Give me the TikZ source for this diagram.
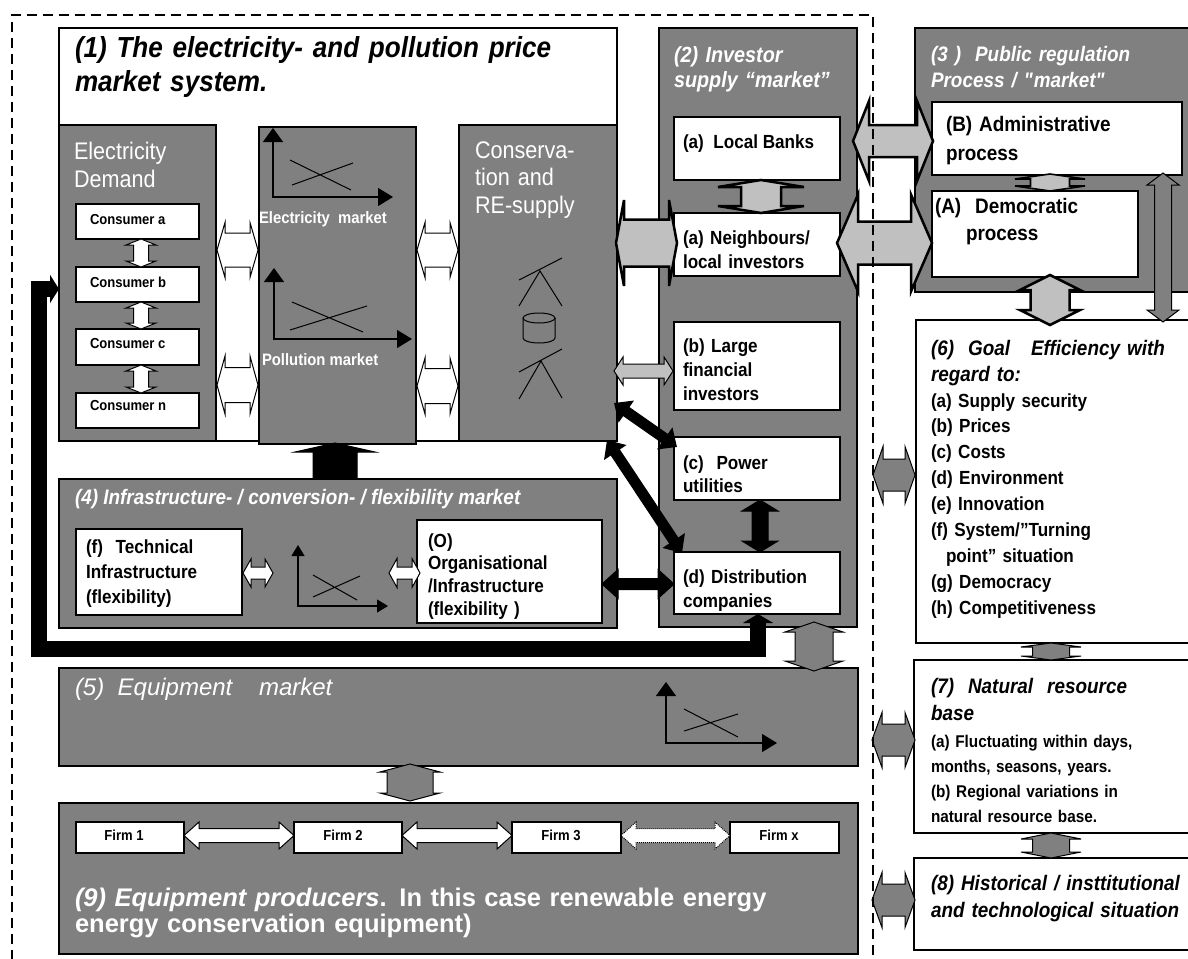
\documentclass[tikz,border=0pt]{standalone}
\usepackage{fontspec}
\setmainfont[FakeStretch=0.9]{Liberation Sans}
\newfontfamily\wf{Liberation Sans}
\usetikzlibrary{arrows.meta,fit}
\definecolor{boxgray}{RGB}{128,128,128}
\definecolor{lgray}{RGB}{192,192,192}
\newcommand\fsz[2]{\fontsize{#1}{#2}\selectfont}
\newcommand\sqq{\XeTeXglyph\XeTeXcharglyph"22\relax}
% horizontal double block arrow: style, x1, x2, yc, shaft half, head half, head length
\newcommand\hdarr[7]{\draw[#1] (#2,#4) -- (#2+#7,#4-#6) -- (#2+#7,#4-#5) -- (#3-#7,#4-#5) -- (#3-#7,#4-#6) -- (#3,#4) -- (#3-#7,#4+#6) -- (#3-#7,#4+#5) -- (#2+#7,#4+#5) -- (#2+#7,#4+#6) -- cycle;}
% vertical double block arrow: style, xc, y1, y2, shaft half, head half, head length
\newcommand\vdarr[7]{\draw[#1] (#2,#3) -- (#2+#6,#3+#7) -- (#2+#5,#3+#7) -- (#2+#5,#4-#7) -- (#2+#6,#4-#7) -- (#2,#4) -- (#2-#6,#4-#7) -- (#2-#5,#4-#7) -- (#2-#5,#3+#7) -- (#2-#6,#3+#7) -- cycle;}
\begin{document}
\begin{tikzpicture}[x=1pt,y=-1pt,
  gbox/.style={draw=black, fill=boxgray, line width=2pt, inner sep=0pt, outer sep=0pt},
  wbox/.style={draw=black, fill=white, line width=1.3pt, inner sep=0pt, outer sep=0pt},
  lbl/.style={inner sep=0pt, outer sep=0pt, anchor=base west},
  mlbl/.style={lbl, align=left},
  warr/.style={draw=black, fill=white, line width=1pt},
  larr/.style={draw=black, fill=lgray, line width=2.5pt, line join=miter},
  larrthin/.style={draw=black, fill=lgray, line width=1pt},
  garr/.style={draw=black, fill=boxgray, line width=1pt},
  barr/.style={draw=black, fill=black, line width=1pt},
  axis/.style={line width=1.2pt, arrows={Triangle[length=14pt,width=20pt]-Triangle[length=15pt,width=18pt]}},
  saxis/.style={line width=1.2pt, arrows={Triangle[length=11pt,width=13pt]-Triangle[length=11pt,width=13pt]}},
  xline/.style={line width=1pt},
  bdiag/.style={line width=11pt, arrows={Triangle[length=15pt,width=26pt]-Triangle[length=15pt,width=26pt]}},
  wt/.style={text=white}
]
\useasboundingbox (0,0) rectangle (1188,958);
\clip (0,0) rectangle (1188,958);

% ---------- main boxes ----------
\node[wbox, line width=2pt, fit={(59,28) (617,441)}] (mkt) {};
\node[gbox, fit={(59,125) (216,441)}] (dem) {};
\node[gbox, fit={(259,127) (416,444)}] (elec) {};
\node[gbox, fit={(459,125) (617,441)}] (cons) {};
\node[gbox, fit={(659,28) (857,627)}] (inv) {};
\node[gbox, fit={(915,28) (1195,292)}] (pub) {};
\node[gbox, fit={(59,479) (617,628)}] (infra) {};
\node[gbox, fit={(59,668) (858,766)}] (equip) {};
\node[gbox, fit={(59,803) (858,954)}] (prod) {};

% ---------- white boxes ----------
\node[wbox, fit={(76,204) (199,239)}] (ca) {};
\node[wbox, fit={(76,267) (199,302)}] (cb) {};
\node[wbox, fit={(76,329) (199,365)}] (cc) {};
\node[wbox, fit={(76,393) (199,428)}] (cn) {};
\node[wbox, fit={(674,117) (840,180)}] (banks) {};
\node[wbox, fit={(674,213) (840,276)}] (neigh) {};
\node[wbox, fit={(674,322) (840,410)}] (large) {};
\node[wbox, fit={(674,437) (840,500)}] (power) {};
\node[wbox, fit={(674,552) (840,614)}] (distr) {};
\node[wbox, fit={(932,102) (1182,175)}] (admin) {};
\node[wbox, fit={(932,191) (1138,277)}] (demo) {};
\node[wbox, line width=2pt, fit={(916,320) (1195,643)}] (goal) {};
\node[wbox, line width=2pt, fit={(914,660) (1195,833)}] (nat) {};
\node[wbox, line width=2pt, fit={(914,858) (1195,950)}] (hist) {};
\node[wbox, fit={(76,529) (242,615)}] (tech) {};
\node[wbox, fit={(417,520) (602,623)}] (org) {};
\node[wbox, fit={(76,822) (184,853)}] (f1) {};
\node[wbox, fit={(294,822) (402,853)}] (f2) {};
\node[wbox, fit={(512,822) (621,853)}] (f3) {};
\node[wbox, fit={(730,822) (839,853)}] (fx) {};

% ---------- graphs ----------
\draw[axis] (273,128) -- (273,197) -- (393,197);
\draw[xline] (290,160) -- (351,190) (292,185) -- (353,163);
\draw[axis] (274,268) -- (274,339) -- (412,339);
\draw[xline] (292,302) -- (363,332) (290,330) -- (367,306);
\draw[saxis] (298,545) -- (298,606) -- (388,606);
\draw[xline] (313,575) -- (357,600) (313,597) -- (360,576);
\draw[axis] (666,682) -- (666,743) -- (777,743);
\draw[xline] (684,709) -- (738,737) (684,731) -- (738,714);

% ---------- figures in conservation box ----------
\draw[xline] (519,280) -- (562,258) (519,306) -- (540,271) -- (562,306);
\draw[xline] (539,318) ellipse [x radius=16, y radius=5];
\draw[xline] (523,318) -- (523,338) arc[start angle=180, end angle=360, x radius=16, y radius=-5] -- (555,318);
\draw[xline] (519,372) -- (562,349) (519,399) -- (541,361) -- (562,398);

% ---------- white arrows ----------
\hdarr{warr}{217}{258}{250}{17}{27.5}{8}
\hdarr{warr}{217}{258}{385}{17.5}{29}{8}
\hdarr{warr}{417}{458}{250}{17}{27.5}{8}
\hdarr{warr}{417}{458}{386}{17.5}{28}{8}
\vdarr{warr}{141}{239}{267}{7.5}{15}{6}
\vdarr{warr}{141}{302}{329}{7.5}{15}{6}
\vdarr{warr}{141}{365}{393}{7.5}{15}{6}
\hdarr{warr}{243}{273}{573}{6}{14}{8}
\hdarr{warr}{389}{420}{573}{6}{14.5}{8}
\hdarr{warr}{184}{294}{835.5}{7}{13.5}{15}
\hdarr{warr}{402}{512}{835.5}{7}{13.5}{15}
\hdarr{warr,densely dotted}{621}{730}{835.5}{7}{13.5}{15}

% ---------- light grey arrows ----------
\hdarr{larr}{616}{677}{243}{23.5}{43}{8}
\vdarr{larr}{761}{180}{213}{20}{43}{7}
\hdarr{larr}{853}{933}{141}{16}{40}{16}
\hdarr{larr}{837}{932}{243}{21.5}{48.5}{21}
\vdarr{larr,line width=1.6pt}{1050}{174}{191}{19.5}{35}{5}
\vdarr{larr}{1050}{275}{325}{19.5}{30}{15}
\hdarr{larrthin}{614}{673}{371}{7}{14}{9}

% ---------- grey arrows ----------
\vdarr{garr}{814}{622}{671}{19}{29}{10}
\vdarr{garr}{410}{764}{801}{23}{30}{8}
\vdarr{garr}{1163}{173}{322}{8.5}{16}{12}
\hdarr{garr}{873}{915}{475}{16}{28.5}{10}
\hdarr{garr}{872}{915}{740}{16}{27.5}{10}
\hdarr{garr}{872}{915}{900}{16}{27.5}{10}
\vdarr{garr}{1051}{643}{660}{18.5}{30}{4}
\vdarr{garr}{1051}{833}{858}{18.5}{30}{6}

% ---------- black arrows ----------
\vdarr{barr}{760}{500}{552}{8}{18}{11}
\hdarr{barr}{602}{674}{584}{5.5}{14.5}{16}
\draw[barr] (335,443) -- (375,452) -- (357,452) -- (357,479) -- (313,479) -- (313,452) -- (295,452) -- cycle;
\draw[bdiag] (614,403) -- (677,447);
\draw[bdiag] (607,440) -- (682,553);
\draw[line width=16pt, line join=miter, arrows={Triangle[length=9pt,width=30pt]-Triangle[length=9pt,width=28pt]}]
  (758,614) -- (758,649) -- (38.5,649) -- (38.5,289) -- (59,289);

% ---------- texts ----------
\node[mlbl, text width=550pt, font={\fsz{29}{34}\bfseries\itshape}] (t1) at (75,57) {(1) The electricity- and pollution price\\market system.};
\node[mlbl, wt, text width=140pt, font={\fsz{24}{28}}] (tdem) at (74,159) {Electricity\\Demand};
\node[lbl, font={\fsz{14.5}{17}\bfseries}] (tca) at (90,224) {Consumer a};
\node[lbl, font={\fsz{14.5}{17}\bfseries}] (tcb) at (90,287) {Consumer b};
\node[lbl, font={\fsz{14.5}{17}\bfseries}] (tcc) at (90,348) {Consumer c};
\node[lbl, font={\fsz{14.5}{17}\bfseries}] (tcn) at (90,410) {Consumer n};
\node[lbl, wt, font={\fsz{16.5}{20}\bfseries}] (tem) at (259,223) {Electricity\ \ market};
\node[lbl, wt, font={\fsz{16.5}{20}\bfseries}] (tpm) at (262,365) {Pollution market};
\node[mlbl, wt, text width=140pt, font={\fsz{24}{27.5}}] (tcons) at (475,158) {Conserva-\\tion and\\RE-supply};
\node[mlbl, wt, text width=180pt, font={\fsz{22}{25}\bfseries\itshape}] (tinv) at (674,63) {(2) Investor\\supply “market”};
\node[lbl, font={\fsz{19}{24}\bfseries}] (tbanks) at (683,148) {(a)\ \ Local Banks};
\node[mlbl, text width=155pt, font={\fsz{19}{24}\bfseries}] (tneigh) at (683,244) {(a) Neighbours/\\local investors};
\node[mlbl, text width=155pt, font={\fsz{19}{24}\bfseries}] (tlarge) at (683,352) {(b) Large\\financial\\investors};
\node[mlbl, text width=155pt, font={\fsz{19}{23}\bfseries}] (tpower) at (683,469) {(c)\ \ Power\\utilities};
\node[mlbl, text width=155pt, font={\fsz{19}{24}\bfseries}] (tdistr) at (683,583) {(d) Distribution\\companies};
\node[mlbl, wt, text width=250pt, font={\fsz{21}{26}\bfseries\itshape}] (tpub) at (931,62) {(3 )\ \ Public regulation\\Process / \sqq market\sqq};
\node[mlbl, text width=230pt, font={\fsz{21}{29}\bfseries}] (tadmin) at (946,131) {(B) Administrative\\process};
\node[mlbl, text width=200pt, font={\fsz{21}{27}\bfseries}] (tdemo) at (935,213) {(A)\ \ Democratic\\\hspace*{31pt}process};
\node[mlbl, text width=255pt, font={\fsz{21}{26}\bfseries\itshape}] (tgoal) at (931,355) {(6)\ \ Goal\ \ \ Efficiency with\\regard to:};
\node[mlbl, text width=255pt, font={\fsz{19}{25.9}\bfseries}] (tgoali) at (931,407) {(a) Supply security\\(b) Prices\\(c) Costs\\(d) Environment\\(e) Innovation\\(f) System/”Turning\\\hspace*{15pt}point” situation\\(g) Democracy\\(h) Competitiveness};
\node[mlbl, text width=255pt, font={\fsz{21}{27}\bfseries\itshape}] (tnat) at (931,693) {(7)\ \ Natural\ \ resource\\base};
\node[mlbl, text width=255pt, font={\fsz{17}{25}\bfseries}] (tnati) at (931,747) {(a) Fluctuating within days,\\months, seasons, years.\\(b) Regional variations in\\natural resource base.};
\node[mlbl, text width=262pt, font={\fsz{21}{27}\bfseries\itshape}] (thist) at (931,890) {(8) Historical / insttitutional\\and technological situation};
\node[lbl, wt, font={\fsz{21}{25}\bfseries\itshape}] (tinfra) at (75,504) {(4) Infrastructure- / conversion- / flexibility market};
\node[mlbl, text width=150pt, font={\fsz{19}{25}\bfseries}] (ttech) at (86,553) {(f)\ \ Technical\\Infrastructure\\(flexibility)};
\node[mlbl, text width=170pt, font={\fsz{19}{22.7}\bfseries}] (torg) at (428,547) {(O)\\Organisational\\/Infrastructure\\(flexibility )};
\node[lbl, wt, font={\wf\fsz{24}{28}\itshape}] (tequip) at (75,695) {(5)\ \ Equipment\ \ \ \ market};
\node[mlbl, wt, text width=780pt, font={\wf\fsz{25.5}{26}\bfseries}] (tprod) at (75,906) {\textit{(9) Equipment producers}. In this case renewable energy\\energy conservation equipment)};
\node[font={\fsz{14.5}{17}\bfseries}, inner sep=0pt, anchor=base] (tf1) at (124,840) {Firm 1};
\node[font={\fsz{14.5}{17}\bfseries}, inner sep=0pt, anchor=base] (tf2) at (343,840) {Firm 2};
\node[font={\fsz{14.5}{17}\bfseries}, inner sep=0pt, anchor=base] (tf3) at (561,840) {Firm 3};
\node[font={\fsz{14.5}{17}\bfseries}, inner sep=0pt, anchor=base] (tfx) at (779,840) {Firm x};

% ---------- dashed frame ----------
\draw[line width=2.5pt, dash pattern=on 10pt off 6pt] (12,960) -- (12,15) -- (873,15) -- (873,960);
\end{tikzpicture}
\end{document}
